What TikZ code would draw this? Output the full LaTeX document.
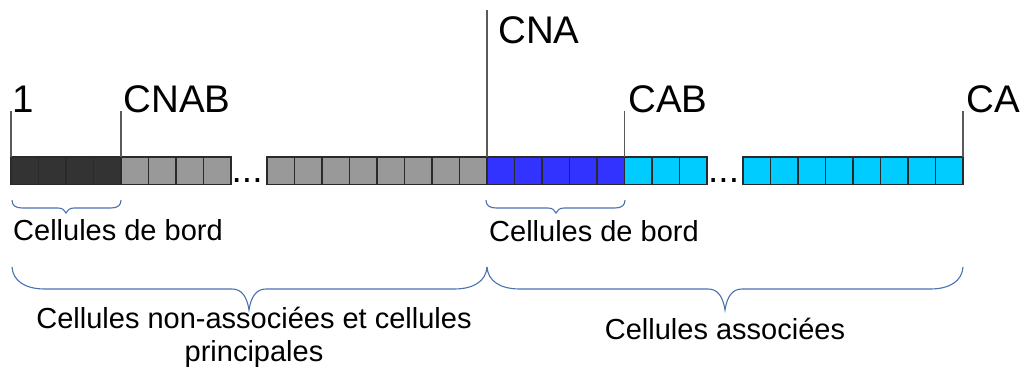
\documentclass[tikz,border=0pt]{standalone}
\usepackage{fontspec}
\setmainfont{Liberation Sans}
\definecolor{cdark}{HTML}{333333}
\definecolor{cgray}{HTML}{999999}
\definecolor{cblue}{HTML}{3333FF}
\definecolor{ccyan}{HTML}{00CCFF}
\definecolor{cellline}{HTML}{2A2A2A}
\definecolor{markline}{HTML}{5A5A5A}
\definecolor{bracecol}{HTML}{4A72B0}
\begin{document}
\begin{tikzpicture}[x=1pt,y=-1pt,
  cellbox/.style={draw=cellline, line width=1.2pt, minimum width=27.5pt, minimum height=27.5pt, inner sep=0pt, outer sep=0pt, anchor=north west},
  marker/.style={draw=markline, line width=1.3pt},
  bracepath/.style={draw=bracecol, line width=1.1pt},
  biglabel/.style={font=\fontsize{38.5}{44}\selectfont, inner sep=0pt, anchor=base west},
  dotlabel/.style={font=\fontsize{37}{44}\selectfont, inner sep=0pt, anchor=base west},
  smalllabel/.style={font=\fontsize{29}{33}\selectfont, inner sep=0pt}
]
\useasboundingbox (0,0) rectangle (1025,370);

% cells
\foreach \i in {0,...,3} \node[cellbox, fill=cdark] (a\i) at ({11+27.5*\i},157) {};
\foreach \i in {0,...,3} \node[cellbox, fill=cgray] (b\i) at ({121+27.5*\i},157) {};
\foreach \i in {0,...,7} \node[cellbox, fill=cgray] (g\i) at ({267+27.5*\i},157) {};
\foreach \i in {0,...,4} \node[cellbox, fill=cblue] (u\i) at ({487+27.5*\i},157) {};
\foreach \i in {0,...,2} \node[cellbox, fill=ccyan] (c\i) at ({624.5+27.5*\i},157) {};
\foreach \i in {0,...,7} \node[cellbox, fill=ccyan] (z\i) at ({743+27.5*\i},157) {};

% dots
\node[dotlabel] (dots1) at (231.5,182) {...};
\node[dotlabel] (dots2) at (708,182) {...};

% marker lines
\coordinate (m1) at (11,111);
\coordinate (m2) at (121,111);
\coordinate (m3) at (487,10);
\coordinate (m4) at (624.5,111);
\coordinate (m5) at (963,111);
\draw[marker] (a0.north west) -- (m1);
\draw[marker] (b0.north west) -- (m2);
\draw[marker] (u0.north west) -- (m3);
\draw[marker] (c0.north west) -- (m4);
\draw[marker] (z7.north east) -- (m5);

% labels
\node[biglabel] (l1) at (12,112) {1};
\node[biglabel] (lcnab) at (123.5,112) {CNAB};
\node[biglabel] (lcna) at (498,43) {CNA};
\node[biglabel] (lcab) at (628,112) {CAB};
\node[biglabel] (lca) at (966,112) {CA};

% braces
\draw[bracepath] (12,200) .. controls (12,205) and (15,208) .. (22,208) -- (58,208) .. controls (62,208) and (65,210) .. (66,213) .. controls (67,210) and (70,208) .. (74,208) -- (111,208) .. controls (118,208) and (121,205) .. (121,200);
\draw[bracepath] (486,200) .. controls (486,205) and (489,208) .. (496,208) -- (548,208) .. controls (552,208) and (555,210) .. (556,213) .. controls (557,210) and (560,208) .. (564,208) -- (615,208) .. controls (622,208) and (625,205) .. (625,200);
\draw[bracepath] (12,267) .. controls (13,281) and (25,289) .. (45,289) -- (232,289) .. controls (242,289) and (247,297) .. (249,310) .. controls (251,297) and (256,289) .. (266,289) -- (454,289) .. controls (474,289) and (486,281) .. (487,267);
\draw[bracepath] (487,267) .. controls (488,281) and (500,289) .. (520,289) -- (708,289) .. controls (718,289) and (723,297) .. (725,310) .. controls (727,297) and (732,289) .. (742,289) -- (930,289) .. controls (950,289) and (962,281) .. (963,267);

% lower texts
\node[smalllabel, anchor=base west] (cb1) at (13,240) {Cellules de bord};
\node[smalllabel, anchor=base west] (cb2) at (489,241) {Cellules de bord};
\node[smalllabel, align=center, anchor=base] (cnp) at (254,361) {Cellules non-associées et cellules\\principales};
\node[smalllabel, anchor=base] (cas) at (725,339) {Cellules associées};
\end{tikzpicture}
\end{document}
